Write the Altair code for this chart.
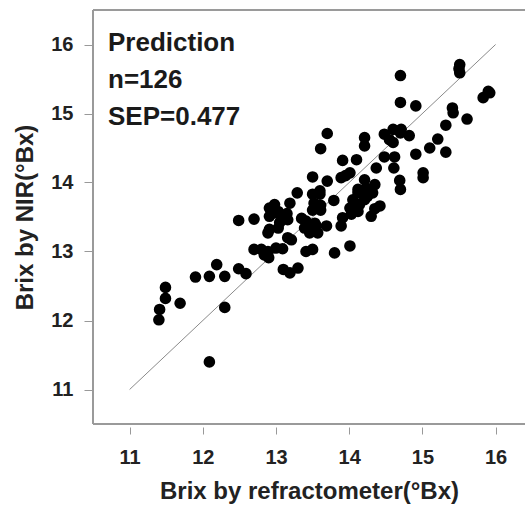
import altair as alt
import pandas as pd

# Reference (refractometer) Brix values
ref_brix = [
    12.09, 11.40, 11.41, 11.49, 11.49, 11.69, 12.30, 11.90, 12.09, 12.30,
    12.19, 12.49, 12.59, 12.49, 12.70, 12.70, 12.80, 12.89, 12.90, 13.09,
    13.10, 13.19, 13.30, 13.41, 13.50, 13.80, 14.01, 13.29, 13.50, 13.60,
    13.52, 13.61, 13.50, 13.61, 13.79, 13.19, 12.98, 12.91, 13.03, 12.91,
    13.09, 13.16, 12.91, 13.03, 12.89, 13.16, 13.21, 13.41, 13.39, 13.53,
    13.46, 13.57, 13.69, 13.91, 13.89, 14.03, 14.12, 14.01, 14.07, 14.12,
    14.21, 14.32, 14.30, 14.42, 13.50, 13.70, 13.70, 14.21, 14.21, 13.61,
    13.91, 14.10, 14.01, 13.89, 14.21, 14.37, 14.12, 14.23, 14.35, 15.51,
    15.51, 14.70, 15.90, 15.83, 15.92, 14.70, 14.91, 15.41, 15.42, 15.61,
    15.32, 14.48, 14.60, 14.71, 14.82, 14.55, 14.60, 15.21, 15.10, 15.32,
    14.91, 14.48, 14.62, 14.61, 15.01, 15.01, 14.69, 14.70, 13.55, 13.44,
    13.50, 13.05, 12.98, 13.55, 14.05, 14.14, 12.84, 13.00, 14.25, 14.35,
    13.60, 13.35, 14.70, 15.50, 13.95, 13.15,
]

# NIR-predicted Brix values
nir_brix = [
    11.40, 12.01, 12.16, 12.32, 12.48, 12.25, 12.19, 12.63, 12.64, 12.64,
    12.81, 12.75, 12.68, 13.45, 13.47, 13.03, 13.03, 13.00, 12.91, 13.04,
    12.74, 12.69, 12.76, 13.00, 13.03, 12.98, 13.08, 13.85, 13.83, 13.83,
    13.70, 13.67, 13.60, 13.60, 13.74, 13.70, 13.68, 13.63, 13.58, 13.51,
    13.51, 13.46, 13.32, 13.34, 13.27, 13.20, 13.17, 13.44, 13.34, 13.41,
    13.27, 13.27, 13.37, 13.49, 13.37, 13.54, 13.58, 13.63, 13.68, 13.85,
    13.75, 13.85, 13.51, 13.66, 14.08, 14.02, 14.71, 14.65, 14.53, 14.49,
    14.32, 14.33, 14.14, 14.07, 14.04, 14.21, 13.90, 13.92, 13.97, 15.71,
    15.59, 15.55, 15.32, 15.23, 15.30, 15.16, 15.11, 15.08, 15.01, 14.92,
    14.83, 14.70, 14.77, 14.77, 14.68, 14.62, 14.58, 14.63, 14.50, 14.44,
    14.41, 14.37, 14.37, 14.21, 14.14, 14.07, 14.03, 13.90, 13.37, 13.37,
    13.32, 13.42, 13.56, 13.65, 13.75, 13.68, 12.95, 13.05, 13.80, 13.62,
    13.88, 13.48, 14.72, 15.65, 14.10, 13.55,
]

# 1:1 reference line
line_x = [11, 16]
line_y = [11, 16]

# Annotation lines
notes = ["Prediction", "n=126", "SEP=0.477"]

x_ticks = [11, 12, 13, 14, 15, 16]
y_ticks = [11, 12, 13, 14, 15, 16]

FONT = "Liberation Sans"
W, H = 432, 414
FRAME = "#9a9a9a"

pts = pd.DataFrame({"ref": ref_brix, "nir": nir_brix})
ln = pd.DataFrame({"ref": line_x, "nir": line_y})

xscale = alt.Scale(domain=[10.5, 10.5 + W / 73.2], nice=False, zero=False)
yscale = alt.Scale(domain=[10.5, 16.5], nice=False, zero=False)

x_axis = alt.Axis(
    title="Brix by refractometer(°Bx)", values=x_ticks, format="d", grid=False, domain=False,
    tickColor="#999999", tickSize=7, offset=3,
    labelFont=FONT, labelFontWeight="bold", labelFontSize=20, labelColor="#222222",
    labelPadding=13,
    titleFont=FONT, titleFontWeight="bold", titleFontSize=24, titleColor="#222222",
    titlePadding=12,
)
y_axis = alt.Axis(
    title="Brix by NIR(°Bx)", values=y_ticks, format="d", grid=False, domain=False,
    tickColor="#999999", tickSize=9,
    labelFont=FONT, labelFontWeight="bold", labelFontSize=20, labelColor="#222222",
    labelPadding=11,
    titleFont=FONT, titleFontWeight="bold", titleFontSize=24, titleColor="#222222",
    titlePadding=13,
)

line = alt.Chart(ln).mark_line(color="#8a8a8a", strokeWidth=1).encode(
    x=alt.X("ref:Q", scale=xscale, axis=x_axis),
    y=alt.Y("nir:Q", scale=yscale, axis=y_axis),
)

points = alt.Chart(pts).mark_circle(color="black", opacity=1, size=135).encode(
    x=alt.X("ref:Q", scale=xscale),
    y=alt.Y("nir:Q", scale=yscale),
)

# Frame: top, left, bottom (the right edge runs off the picture)
frame_top = alt.Chart(ln).mark_rule(color=FRAME, strokeWidth=2).encode(
    x=alt.value(0), x2=alt.value(W), y=alt.value(0)
).transform_filter("datum.ref == 11")
frame_left = alt.Chart(ln).mark_rule(color=FRAME, strokeWidth=2).encode(
    x=alt.value(0), y=alt.value(0), y2=alt.value(H)
).transform_filter("datum.ref == 11")
frame_bottom = alt.Chart(ln).mark_rule(color=FRAME, strokeWidth=2).encode(
    x=alt.value(0), x2=alt.value(W), y=alt.value(H)
).transform_filter("datum.ref == 11")

note_base = [51, 88, 125]
note_layers = [
    alt.Chart(ln).mark_text(
        align="left", baseline="alphabetic", font=FONT, fontWeight="bold",
        fontSize=26, color="#1a1a1a",
    ).encode(
        x=alt.value(15), y=alt.value(note_base[i] - 10), text=alt.value(notes[i])
    ).transform_filter("datum.ref == 11")
    for i in range(len(notes))
]

chart = alt.layer(
    line, points, frame_top, frame_left, frame_bottom, *note_layers
).properties(
    width=W,
    height=H,
    autosize=alt.AutoSizeParams(type="none"),
    padding={"left": 93, "top": 10, "right": 0, "bottom": 80},
    background="white",
).configure_view(
    stroke="white", strokeWidth=3
)

chart.save("out.html", embed_options={"renderer": "svg", "actions": False})
